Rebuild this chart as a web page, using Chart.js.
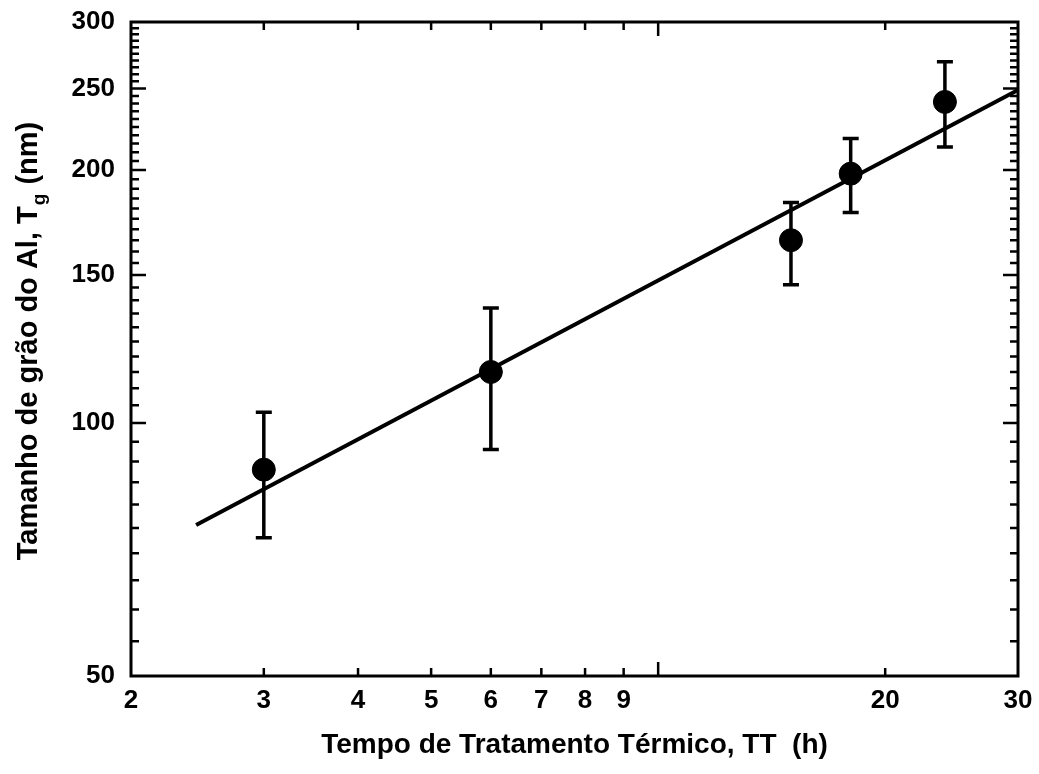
<!DOCTYPE html>
<html>
<head>
<script src="https://cdn.jsdelivr.net/npm/chart.js@4"></script>
<style>
  body { margin: 0; background: #fff; }
  #wrap { width: 1039px; height: 774px; }
</style>
</head>
<body>
<div id="wrap"><canvas id="canvas"></canvas></div>
<script>
// tempo de tratamento (h) e tamanho de grão (nm)
const tempo = [3, 6, 15, 18, 24];
const tamanho = [88, 115, 165, 198, 241];
const erroInf = [73, 93, 146, 178, 213];
const erroSup = [103, 137, 183, 218, 269];
// reta de ajuste
const ajusteX = [2.44, 30];
const ajusteY = [75.6, 249];
// eixos
const xTicks = [2, 3, 4, 5, 6, 7, 8, 9, 10, 20, 30];
const xLabels = ['2', '3', '4', '5', '6', '7', '8', '9', '', '20', '30'];
const yTicks = [50, 100, 150, 200, 250, 300];

const FONT = 'Liberation Sans, Arial, sans-serif';

const frame = {
  id: 'frame',
  afterDatasetsDraw(chart) {
    const ctx = chart.ctx;
    const a = chart.chartArea;
    const sx = chart.scales.x, sy = chart.scales.y;
    ctx.save();
    ctx.strokeStyle = '#000';
    ctx.lineCap = 'butt';

    // barras de erro
    ctx.lineWidth = 3.5;
    tempo.forEach((t, i) => {
      const px = sx.getPixelForValue(t);
      const lo = sy.getPixelForValue(erroInf[i]);
      const hi = sy.getPixelForValue(erroSup[i]);
      ctx.beginPath();
      ctx.moveTo(px, lo); ctx.lineTo(px, hi);
      ctx.moveTo(px - 8, lo); ctx.lineTo(px + 8, lo);
      ctx.moveTo(px - 8, hi); ctx.lineTo(px + 8, hi);
      ctx.stroke();
    });

    // ticks para dentro, nos quatro lados
    ctx.lineWidth = 2.5;
    ctx.beginPath();
    xTicks.forEach(v => {
      if (v <= 2 || v >= 30) return;
      const px = sx.getPixelForValue(v);
      const len = v === 10 ? 14 : 8;
      ctx.moveTo(px, a.bottom); ctx.lineTo(px, a.bottom - len);
      ctx.moveTo(px, a.top); ctx.lineTo(px, a.top + len);
    });
    for (let v = 55; v < 300; v += 5) {
      const py = sy.getPixelForValue(v);
      const len = v % 50 === 0 ? 15 : 8;
      ctx.moveTo(a.left, py); ctx.lineTo(a.left + len, py);
      ctx.moveTo(a.right, py); ctx.lineTo(a.right - len, py);
    }
    ctx.stroke();

    // moldura
    ctx.lineWidth = 3;
    ctx.strokeRect(a.left, a.top, a.right - a.left, a.bottom - a.top);
    ctx.restore();
  },
  afterDraw(chart) {
    // título do eixo y com subscrito
    const ctx = chart.ctx;
    ctx.save();
    ctx.fillStyle = '#000';
    ctx.textBaseline = 'alphabetic';
    const main = 'bold 29px ' + FONT;
    const sub = 'bold 19px ' + FONT;
    const p1 = 'Tamanho de grão do Al, T';
    const p2 = 'g';
    const p3 = ' (nm)';
    ctx.font = main;
    const w1 = ctx.measureText(p1).width, w3 = ctx.measureText(p3).width;
    ctx.font = sub;
    const w2 = ctx.measureText(p2).width + 2;
    const total = w1 + w2 + w3;
    ctx.translate(37, 341);
    ctx.rotate(-Math.PI / 2);
    let x = -total / 2;
    ctx.font = main;
    ctx.fillText(p1, x, 0);
    x += w1;
    ctx.font = sub;
    ctx.fillText(p2, x + 1, 8);
    x += w2;
    ctx.font = main;
    ctx.fillText(p3, x, 0);
    ctx.restore();
  }
};

new Chart(document.getElementById('canvas'), {
  type: 'scatter',
  data: {
    datasets: [
      {
        data: tempo.map((t, i) => ({ x: t, y: tamanho[i] })),
        pointRadius: 11.5,
        pointHoverRadius: 11.5,
        backgroundColor: '#000',
        borderColor: '#000',
        showLine: false
      },
      {
        data: ajusteX.map((t, i) => ({ x: t, y: ajusteY[i] })),
        showLine: true,
        pointRadius: 0,
        borderWidth: 4,
        borderColor: '#000'
      }
    ]
  },
  options: {
    responsive: true,
    maintainAspectRatio: false,
    animation: false,
    layout: { padding: { left: 0, top: 22, right: 21, bottom: 0 } },
    plugins: { legend: { display: false }, tooltip: { enabled: false } },
    scales: {
      x: {
        type: 'logarithmic',
        min: 2,
        max: 30,
        grid: { display: false, drawTicks: false },
        border: { display: false },
        afterBuildTicks: (s) => { s.ticks = xTicks.map(v => ({ value: v })); },
        afterFit: (s) => { s.height = 98; s.paddingLeft = 0; s.paddingRight = 0; },
        ticks: {
          autoSkip: false,
          maxRotation: 0,
          padding: 9,
          color: '#000',
          font: { family: FONT, size: 26, weight: 'bold' },
          callback: (v, i) => xLabels[i]
        },
        title: {
          display: true,
          text: 'Tempo de Tratamento Térmico, TT  (h)',
          color: '#000',
          font: { family: FONT, size: 28, weight: 'bold' },
          padding: { top: 0, bottom: 12 }
        }
      },
      y: {
        type: 'logarithmic',
        min: 50,
        max: 300,
        grid: { display: false, drawTicks: false },
        border: { display: false },
        afterBuildTicks: (s) => { s.ticks = yTicks.map(v => ({ value: v })); },
        afterFit: (s) => { s.width = 131; s.paddingTop = 0; s.paddingBottom = 0; },
        ticks: {
          autoSkip: false,
          padding: 16,
          color: '#000',
          font: { family: FONT, size: 26, weight: 'bold' },
          callback: (v) => String(v)
        }
      }
    }
  },
  plugins: [frame]
});
</script>
</body>
</html>
